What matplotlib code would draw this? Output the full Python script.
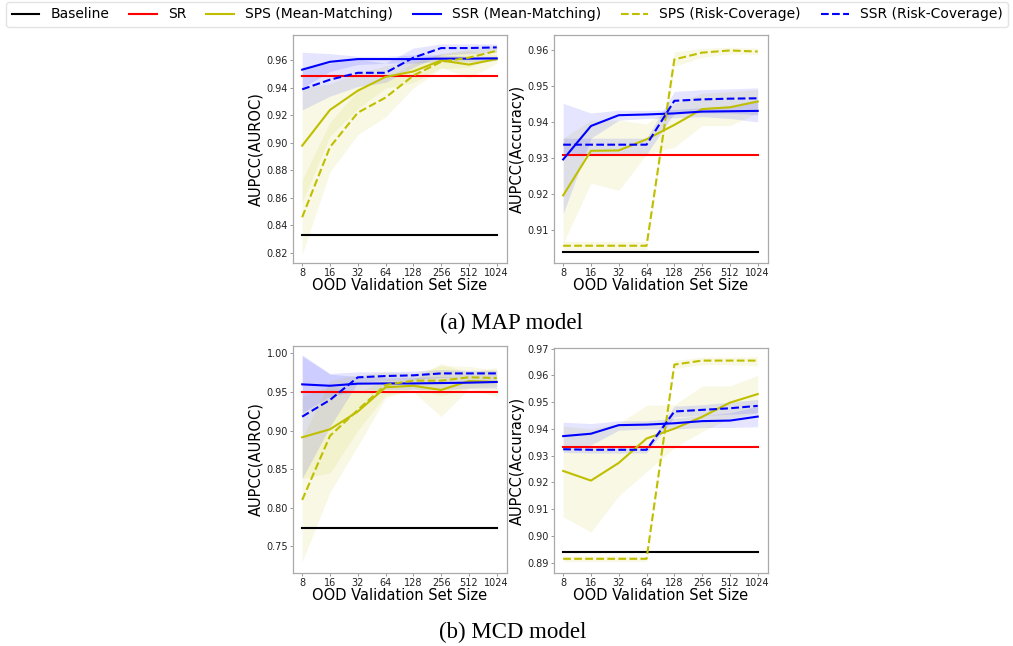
import numpy as np
import matplotlib
matplotlib.use("Agg")
import matplotlib.pyplot as plt

x_labels = ["8", "16", "32", "64", "128", "256", "512", "1024"]

# ---------- (a) MAP model, AUROC ----------
map_auroc_baseline = 0.8331
map_auroc_sr = 0.949
map_auroc_sps_mm = [0.898, 0.924, 0.938, 0.948, 0.952, 0.960, 0.957, 0.961]
map_auroc_sps_mm_lo = [0.857, 0.905, 0.925, 0.940, 0.944, 0.955, 0.947, 0.958]
map_auroc_sps_mm_hi = [0.940, 0.943, 0.951, 0.956, 0.960, 0.965, 0.967, 0.964]
map_auroc_ssr_mm = [0.9533, 0.959, 0.961, 0.961, 0.961, 0.9613, 0.9613, 0.9615]
map_auroc_ssr_mm_lo = [0.940, 0.952, 0.957, 0.958, 0.958, 0.959, 0.959, 0.960]
map_auroc_ssr_mm_hi = [0.966, 0.965, 0.963, 0.963, 0.964, 0.964, 0.963, 0.963]
map_auroc_sps_rc = [0.846, 0.897, 0.922, 0.933, 0.949, 0.959, 0.962, 0.967]
map_auroc_sps_rc_lo = [0.819, 0.879, 0.906, 0.919, 0.940, 0.954, 0.955, 0.963]
map_auroc_sps_rc_hi = [0.873, 0.915, 0.938, 0.947, 0.958, 0.965, 0.968, 0.971]
map_auroc_ssr_rc = [0.939, 0.946, 0.951, 0.951, 0.962, 0.969, 0.969, 0.9695]
map_auroc_ssr_rc_lo = [0.924, 0.934, 0.941, 0.944, 0.955, 0.964, 0.965, 0.966]
map_auroc_ssr_rc_hi = [0.955, 0.958, 0.961, 0.958, 0.969, 0.972, 0.972, 0.972]

# ---------- (a) MAP model, Accuracy ----------
map_acc_baseline = 0.9039
map_acc_sr = 0.9309
map_acc_sps_mm = [0.9196, 0.932, 0.9321, 0.9352, 0.9392, 0.9436, 0.9441, 0.9457]
map_acc_sps_mm_lo = [0.9063, 0.923, 0.921, 0.931, 0.933, 0.939, 0.939, 0.9425]
map_acc_sps_mm_hi = [0.9355, 0.9405, 0.9405, 0.9395, 0.945, 0.948, 0.9485, 0.949]
map_acc_ssr_mm = [0.9296, 0.9389, 0.9419, 0.9421, 0.9424, 0.9429, 0.943, 0.9431]
map_acc_ssr_mm_lo = [0.9145, 0.9355, 0.9405, 0.941, 0.9412, 0.9415, 0.941, 0.940]
map_acc_ssr_mm_hi = [0.9452, 0.9425, 0.9433, 0.9432, 0.9435, 0.944, 0.9445, 0.9463]
map_acc_sps_rc = [0.9056, 0.9056, 0.9056, 0.9056, 0.9574, 0.9593, 0.9599, 0.9596]
map_acc_sps_rc_lo = [0.9045, 0.9045, 0.9045, 0.9045, 0.9555, 0.958, 0.959, 0.9588]
map_acc_sps_rc_hi = [0.9068, 0.9068, 0.9068, 0.9068, 0.9595, 0.9605, 0.9608, 0.9605]
map_acc_ssr_rc = [0.9337, 0.9337, 0.9337, 0.9337, 0.9459, 0.9463, 0.9465, 0.9466]
map_acc_ssr_rc_lo = [0.9315, 0.931, 0.931, 0.931, 0.9425, 0.9425, 0.9425, 0.942]
map_acc_ssr_rc_hi = [0.9355, 0.9355, 0.9355, 0.9355, 0.9485, 0.949, 0.9492, 0.9495]

# ---------- (b) MCD model, AUROC ----------
mcd_auroc_baseline = 0.7733
mcd_auroc_sr = 0.950
mcd_auroc_sps_mm = [0.8912, 0.9016, 0.9245, 0.956, 0.958, 0.9525, 0.9642, 0.963]
mcd_auroc_sps_mm_lo = [0.838, 0.845, 0.900, 0.946, 0.950, 0.918, 0.954, 0.944]
mcd_auroc_sps_mm_hi = [0.944, 0.958, 0.949, 0.966, 0.966, 0.987, 0.974, 0.982]
mcd_auroc_ssr_mm = [0.9598, 0.958, 0.9607, 0.961, 0.961, 0.9615, 0.962, 0.9629]
mcd_auroc_ssr_mm_lo = [0.923, 0.944, 0.952, 0.953, 0.953, 0.953, 0.955, 0.955]
mcd_auroc_ssr_mm_hi = [0.9965, 0.973, 0.970, 0.969, 0.969, 0.970, 0.970, 0.970]
mcd_auroc_sps_rc = [0.810, 0.893, 0.9266, 0.959, 0.9646, 0.9646, 0.969, 0.968]
mcd_auroc_sps_rc_lo = [0.730, 0.820, 0.880, 0.942, 0.955, 0.945, 0.955, 0.958]
mcd_auroc_sps_rc_hi = [0.890, 0.965, 0.972, 0.976, 0.974, 0.984, 0.983, 0.978]
mcd_auroc_ssr_rc = [0.918, 0.9396, 0.9689, 0.9706, 0.9715, 0.974, 0.974, 0.974]
mcd_auroc_ssr_rc_lo = [0.838, 0.905, 0.962, 0.965, 0.966, 0.969, 0.970, 0.970]
mcd_auroc_ssr_rc_hi = [0.998, 0.974, 0.976, 0.976, 0.977, 0.979, 0.978, 0.978]

# ---------- (b) MCD model, Accuracy ----------
mcd_acc_baseline = 0.8941
mcd_acc_sr = 0.9331
mcd_acc_sps_mm = [0.9243, 0.9207, 0.9273, 0.9364, 0.9401, 0.9445, 0.9498, 0.953]
mcd_acc_sps_mm_lo = [0.9072, 0.9015, 0.915, 0.924, 0.933, 0.939, 0.944, 0.946]
mcd_acc_sps_mm_hi = [0.941, 0.940, 0.942, 0.9488, 0.949, 0.956, 0.956, 0.960]
mcd_acc_ssr_mm = [0.9373, 0.9382, 0.9414, 0.9416, 0.9421, 0.9429, 0.9431, 0.9446]
mcd_acc_ssr_mm_lo = [0.9325, 0.934, 0.9395, 0.940, 0.940, 0.9405, 0.9405, 0.9408]
mcd_acc_ssr_mm_hi = [0.9425, 0.942, 0.943, 0.943, 0.944, 0.945, 0.946, 0.9485]
mcd_acc_sps_rc = [0.8915, 0.8915, 0.8915, 0.8915, 0.964, 0.9655, 0.9655, 0.9655]
mcd_acc_sps_rc_lo = [0.8905, 0.8905, 0.8905, 0.8905, 0.9625, 0.964, 0.964, 0.9635]
mcd_acc_sps_rc_hi = [0.8925, 0.8925, 0.8925, 0.8925, 0.9655, 0.9668, 0.9668, 0.967]
mcd_acc_ssr_rc = [0.9324, 0.9322, 0.9322, 0.9322, 0.9465, 0.9471, 0.9477, 0.9486]
mcd_acc_ssr_rc_lo = [0.9312, 0.931, 0.931, 0.931, 0.9445, 0.945, 0.9455, 0.946]
mcd_acc_ssr_rc_hi = [0.9335, 0.9335, 0.9335, 0.9335, 0.9485, 0.949, 0.950, 0.951]

legend_labels = ["Baseline", "SR", "SPS (Mean-Matching)", "SSR (Mean-Matching)",
                 "SPS (Risk-Coverage)", "SSR (Risk-Coverage)"]
ylabels = ["AUPCC(AUROC)", "AUPCC(Accuracy)"]
xlabel = "OOD Validation Set Size"
captions = ["(a) MAP model", "(b) MCD model"]

panels = [
    dict(base=map_auroc_baseline, sr=map_auroc_sr,
         sps_mm=(map_auroc_sps_mm, map_auroc_sps_mm_lo, map_auroc_sps_mm_hi),
         ssr_mm=(map_auroc_ssr_mm, map_auroc_ssr_mm_lo, map_auroc_ssr_mm_hi),
         sps_rc=(map_auroc_sps_rc, map_auroc_sps_rc_lo, map_auroc_sps_rc_hi),
         ssr_rc=(map_auroc_ssr_rc, map_auroc_ssr_rc_lo, map_auroc_ssr_rc_hi),
         ylabel=ylabels[0], ylim=(0.8127, 0.9785),
         yticks=[0.82, 0.84, 0.86, 0.88, 0.90, 0.92, 0.94, 0.96], fmt="{:.2f}",
         pos=(293, 35, 507, 263)),
    dict(base=map_acc_baseline, sr=map_acc_sr,
         sps_mm=(map_acc_sps_mm, map_acc_sps_mm_lo, map_acc_sps_mm_hi),
         ssr_mm=(map_acc_ssr_mm, map_acc_ssr_mm_lo, map_acc_ssr_mm_hi),
         sps_rc=(map_acc_sps_rc, map_acc_sps_rc_lo, map_acc_sps_rc_hi),
         ssr_rc=(map_acc_ssr_rc, map_acc_ssr_rc_lo, map_acc_ssr_rc_hi),
         ylabel=ylabels[1], ylim=(0.9008, 0.9642),
         yticks=[0.91, 0.92, 0.93, 0.94, 0.95, 0.96], fmt="{:.2f}",
         pos=(554, 35, 768, 263)),
    dict(base=mcd_auroc_baseline, sr=mcd_auroc_sr,
         sps_mm=(mcd_auroc_sps_mm, mcd_auroc_sps_mm_lo, mcd_auroc_sps_mm_hi),
         ssr_mm=(mcd_auroc_ssr_mm, mcd_auroc_ssr_mm_lo, mcd_auroc_ssr_mm_hi),
         sps_rc=(mcd_auroc_sps_rc, mcd_auroc_sps_rc_lo, mcd_auroc_sps_rc_hi),
         ssr_rc=(mcd_auroc_ssr_rc, mcd_auroc_ssr_rc_lo, mcd_auroc_ssr_rc_hi),
         ylabel=ylabels[0], ylim=(0.7154, 1.0095),
         yticks=[0.75, 0.80, 0.85, 0.90, 0.95, 1.00], fmt="{:.2f}",
         pos=(293, 346, 507, 573)),
    dict(base=mcd_acc_baseline, sr=mcd_acc_sr,
         sps_mm=(mcd_acc_sps_mm, mcd_acc_sps_mm_lo, mcd_acc_sps_mm_hi),
         ssr_mm=(mcd_acc_ssr_mm, mcd_acc_ssr_mm_lo, mcd_acc_ssr_mm_hi),
         sps_rc=(mcd_acc_sps_rc, mcd_acc_sps_rc_lo, mcd_acc_sps_rc_hi),
         ssr_rc=(mcd_acc_ssr_rc, mcd_acc_ssr_rc_lo, mcd_acc_ssr_rc_hi),
         ylabel=ylabels[1], ylim=(0.8862, 0.9702),
         yticks=[0.89, 0.90, 0.91, 0.92, 0.93, 0.94, 0.95, 0.96, 0.97], fmt="{:.2f}",
         pos=(554, 348, 768, 573)),
]

W, H = 1013, 646
fig = plt.figure(figsize=(W / 100, H / 100), dpi=100)
fig.patch.set_facecolor("white")

x = np.arange(len(x_labels))
handles = None
for p in panels:
    l, t, r, b = p["pos"]
    ax = fig.add_axes([l / W, 1 - b / H, (r - l) / W, (b - t) / H])
    h0, = ax.plot(x, np.full(len(x), p["base"]), color="k", lw=1.5)
    h1, = ax.plot(x, np.full(len(x), p["sr"]), color="r", lw=1.5)
    m, lo, hi = p["sps_mm"]
    h2, = ax.plot(x, m, color="y", lw=1.5)
    ax.fill_between(x, lo, hi, color="y", alpha=0.1, lw=0)
    m, lo, hi = p["ssr_mm"]
    h3, = ax.plot(x, m, color="b", lw=1.5)
    ax.fill_between(x, lo, hi, color="b", alpha=0.1, lw=0)
    m, lo, hi = p["sps_rc"]
    h4, = ax.plot(x, m, color="y", lw=1.5, ls="--")
    ax.fill_between(x, lo, hi, color="y", alpha=0.1, lw=0)
    m, lo, hi = p["ssr_rc"]
    h5, = ax.plot(x, m, color="b", lw=1.5, ls="--")
    ax.fill_between(x, lo, hi, color="b", alpha=0.1, lw=0)
    handles = [h0, h1, h2, h3, h4, h5]

    ax.set_xticks(x)
    ax.set_xticklabels(x_labels, fontsize=7)
    ax.set_yticks(p["yticks"])
    ax.set_yticklabels([p["fmt"].format(v) for v in p["yticks"]], fontsize=7)
    ax.set_ylim(*p["ylim"])
    ax.set_xlim(-0.33, 7.37)
    ax.set_ylabel(p["ylabel"], fontsize=10.5, labelpad=2)
    ax.set_xlabel(xlabel, fontsize=10.5, labelpad=0)
    ax.tick_params(length=2, width=0.6, pad=1.5, colors="#222222", color="#888888")
    for s in ax.spines.values():
        s.set_color("#aaaaaa")
        s.set_linewidth(0.9)

leg = fig.legend(handles, legend_labels, ncol=6, mode="expand",
                 loc="lower left", bbox_to_anchor=(6 / W, 1 - 27 / H, 1002 / W, 24 / H),
                 borderaxespad=0, fontsize=10, frameon=True, handlelength=2.0)
leg.get_frame().set_edgecolor("#dddddd")

fig.text(511 / W, 1 - 323 / H, captions[0], ha="center", va="center",
         fontsize=16.5, family=["Liberation Serif", "DejaVu Serif"])
fig.text(513 / W, 1 - 632 / H, captions[1], ha="center", va="center",
         fontsize=16.5, family=["Liberation Serif", "DejaVu Serif"])

fig.savefig("out.png", dpi=100, facecolor="white")
